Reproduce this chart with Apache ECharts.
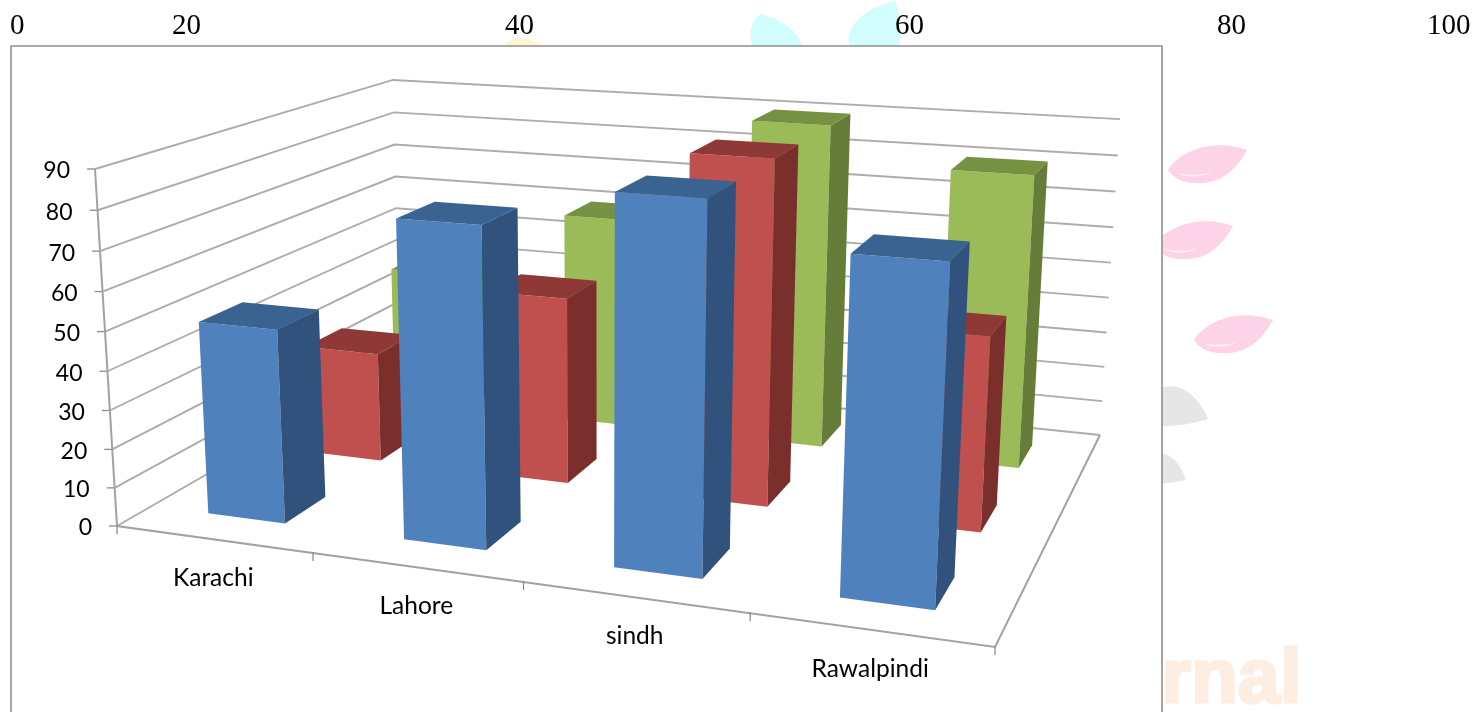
<!DOCTYPE html>
<html>
<head>
<meta charset="utf-8">
<title>City comparison</title>
<script src="https://cdn.jsdelivr.net/npm/echarts@6/dist/echarts.min.js"></script>
<style>html,body{margin:0;padding:0;background:#fff}#main{width:1473px;height:712px}</style>
</head>
<body>
<div id="main"></div>
<script>
// Chart values
const categories = ['Karachi', 'Lahore', 'sindh', 'Rawalpindi'];
const frontRow = [50, 80, 90, 80];
const middleRow = [30, 50, 90, 50];
const backRow = [40, 60, 90, 80];
const valueTicks = [0, 10, 20, 30, 40, 50, 60, 70, 80, 90];
const topTicks = ['0', '20', '40', '60', '80', '100'];

// Screen placement of the scale printed above the frame
const topTickLeft = [10, 172, 505, 895, 1217, 1427];

// Camera: floor corners on screen plus the vanishing point of the vertical edges
const floorFL = [117, 526], floorFR = [995, 647], floorBR = [1100, 435], floorBL = [400, 363];
const vanish = [599, 8350];
const topFL = [95, 169];
const gridBox = { left: 117, top: 169, width: 878, height: 357 };

function floorMatrix(p0, p1, p2, p3) {
  // unit square to quad: (0,0)=p0 (1,0)=p1 (1,1)=p2 (0,1)=p3
  const dx1 = p1[0] - p2[0], dx2 = p3[0] - p2[0], sx = p0[0] - p1[0] + p2[0] - p3[0];
  const dy1 = p1[1] - p2[1], dy2 = p3[1] - p2[1], sy = p0[1] - p1[1] + p2[1] - p3[1];
  const d = dx1 * dy2 - dx2 * dy1;
  const g = (sx * dy2 - dx2 * sy) / d, h = (dx1 * sy - sx * dy1) / d;
  return [
    p1[0] - p0[0] + g * p1[0], p3[0] - p0[0] + h * p3[0], p0[0],
    p1[1] - p0[1] + g * p1[1], p3[1] - p0[1] + h * p3[1], p0[1],
    g, h, 1
  ];
}
const M = floorMatrix(floorFL, floorFR, floorBR, floorBL);
const liftRatio = (topFL[1] - floorFL[1]) / (vanish[1] - topFL[1]);

// u: along the categories, v: into the depth, t: height fraction of the value axis
function project(u, v, t) {
  const k = liftRatio * t;
  const X = M[0] * u + M[1] * v + M[2] + k * vanish[0];
  const Y = M[3] * u + M[4] * v + M[5] + k * vanish[1];
  const W = M[6] * u + M[7] * v + M[8] + k;
  return [X / W, Y / W];
}

const uiFont = 'Lato, "Open Sans", sans-serif';
const GAP_SHARE = 0.4;
const lineGrey = '#acacac';

function axisFractions(api, params, cat, val) {
  const c = params.coordSys;
  return {
    u: (api.coord([cat, 0])[0] - c.x) / c.width,
    t: (api.coord([0, 0])[1] - api.coord([0, val])[1]) / c.height
  };
}

function barRenderer(rowIndex, colors) {
  return function (params, api) {
    const f = axisFractions(api, params, api.value(0), api.value(1));
    const du = GAP_SHARE / 4 / 2, dv = GAP_SHARE / 3 / 2;
    const v0 = (rowIndex + 0.5) / 3 - dv, v1 = (rowIndex + 0.5) / 3 + dv;
    const u0 = f.u - du, u1 = f.u + du, t = f.t;
    return {
      type: 'group',
      children: [
        { type: 'polygon', shape: { points: [project(u0, v0, 0), project(u1, v0, 0), project(u1, v0, t), project(u0, v0, t)] }, style: { fill: colors[0] } },
        { type: 'polygon', shape: { points: [project(u1, v0, 0), project(u1, v1, 0), project(u1, v1, t), project(u1, v0, t)] }, style: { fill: colors[1] } },
        { type: 'polygon', shape: { points: [project(u0, v0, t), project(u1, v0, t), project(u1, v1, t), project(u0, v1, t)] }, style: { fill: colors[2] } }
      ]
    };
  };
}

function wallRenderer(params, api) {
  const val = api.value(1);
  const t = axisFractions(api, params, 0, val).t;
  const a = project(0, 0, t), b = project(0, 1, t), c = project(1, 1, t);
  return {
    type: 'group',
    children: [
      { type: 'polyline', shape: { points: [a, b, c] }, style: { stroke: lineGrey, lineWidth: 1.9, fill: null } },
      { type: 'line', shape: { x1: a[0] - 8, y1: a[1], x2: a[0], y2: a[1] }, style: { stroke: '#8c8c8c', lineWidth: 1.3 } },
      { type: 'text', style: { x: a[0] - 25, y: a[1] + 2, text: String(val), align: 'right', verticalAlign: 'middle', font: '23px ' + uiFont, fill: '#000' } }
    ]
  };
}

function floorRenderer(params, api) {
  const children = [
    { type: 'polyline', shape: { points: [project(0, 0, 1), project(0, 0, 0), project(1, 0, 0), project(1, 1, 0)] }, style: { stroke: '#a2a2a2', lineWidth: 2, fill: null } }
  ];
  for (let i = 0; i <= categories.length; i++) {
    const p = project(i / categories.length, 0, 0);
    children.push({ type: 'line', shape: { x1: p[0], y1: p[1] - 1, x2: p[0], y2: p[1] + 8 }, style: { stroke: '#8c8c8c', lineWidth: 1.3 } });
  }
  return { type: 'group', children };
}

function categoryLabelRenderer(params, api) {
  const f = axisFractions(api, params, api.value(0), 0);
  const p = project(f.u, 0, 0);
  return { type: 'text', style: { x: p[0], y: p[1] + 39, text: categories[api.value(0)], align: 'center', verticalAlign: 'middle', font: '24.5px ' + uiFont, fill: '#000' } };
}

function topScaleRenderer(params, api) {
  const i = api.value(0);
  return { type: 'text', style: { x: topTickLeft[i], y: 26, text: topTicks[i], align: 'left', verticalAlign: 'middle', font: '29px "Liberation Serif", serif', fill: '#000' } };
}

function leaf(d, fill, x, y) {
  return { type: 'path', x: x || 0, y: y || 0, shape: { pathData: d }, style: { fill } };
}
const pinkLeaf = 'M1168 170C1180 150 1215 138 1247 150C1236 170 1220 185 1195 183C1180 183 1172 176 1168 170Z';
const pinkStreak = 'M1175 173C1190 176 1200 175 1212 172C1202 178 1188 178 1175 173Z';

// Faint page ornaments, then the white chart frame laid over them
function backdropRenderer() {
  return {
    type: 'group',
    children: [
      leaf('M503 46Q520 30 543 46Z', '#fff4d3'),
      leaf('M752 46C748 30 752 18 762 14C780 20 798 30 802 46Z', '#d2fdff'),
      leaf('M849 46C845 25 865 8 895 1C900 10 900 30 900 46Z', '#d2fdff'),
      leaf(pinkLeaf, '#fdd3e7'), leaf(pinkStreak, '#fff0f7'),
      leaf(pinkLeaf, '#fdd3e7', -14, 76), leaf(pinkStreak, '#fff0f7', -14, 76),
      leaf(pinkLeaf, '#fdd3e7', 26, 170), leaf(pinkStreak, '#fff0f7', 26, 170),
      leaf('M1140 418C1150 375 1190 376 1208 419C1190 425 1170 427 1140 427Z', '#e6e6e6'),
      leaf('M1140 475C1150 443 1175 448 1186 480C1170 484 1150 484 1140 484Z', '#e6e6e6'),
      { type: 'text', style: { x: 1301, y: 719, text: 'rnal', align: 'right', verticalAlign: 'bottom', font: '900 76px "Liberation Sans", sans-serif', fill: '#fdeee1', stroke: '#fdeee1', lineWidth: 3 } },
      { type: 'rect', shape: { x: 11, y: 46, width: 1151, height: 700 }, style: { fill: '#fff', stroke: '#8f8f8f', lineWidth: 1.6 } }
    ]
  };
}

function rows(values) { return values.map((v, i) => [i, v]); }

const chart = echarts.init(document.getElementById('main'));
chart.setOption({
  animation: false,
  backgroundColor: '#fff',
  grid: gridBox,
  xAxis: { type: 'category', data: categories, show: false },
  yAxis: { type: 'value', min: 0, max: 90, interval: 10, show: false },
  series: [
    { type: 'custom', name: 'backdrop', silent: true, clip: false, renderItem: backdropRenderer, data: [[0, 0]], z: 1 },
    { type: 'custom', name: 'topScale', silent: true, renderItem: topScaleRenderer, data: topTicks.map((t, i) => [i, 0]), z: 2 },
    { type: 'custom', name: 'walls', silent: true, renderItem: wallRenderer, data: valueTicks.map(v => [0, v]), z: 2 },
    { type: 'custom', name: 'floor', silent: true, renderItem: floorRenderer, data: [[0, 0]], z: 3 },
    { type: 'custom', name: 'categoryLabels', silent: true, renderItem: categoryLabelRenderer, data: categories.map((c, i) => [i, 0]), z: 3 },
    { type: 'custom', name: 'Back', renderItem: barRenderer(2, ['#9BBB59', '#667D3A', '#779142']), data: rows(backRow), z: 4 },
    { type: 'custom', name: 'Middle', renderItem: barRenderer(1, ['#C0504D', '#7B2F2D', '#8E3936']), data: rows(middleRow), z: 5 },
    { type: 'custom', name: 'Front', renderItem: barRenderer(0, ['#4F81BD', '#31527C', '#3B6391']), data: rows(frontRow), z: 6 }
  ]
});
</script>
</body>
</html>
